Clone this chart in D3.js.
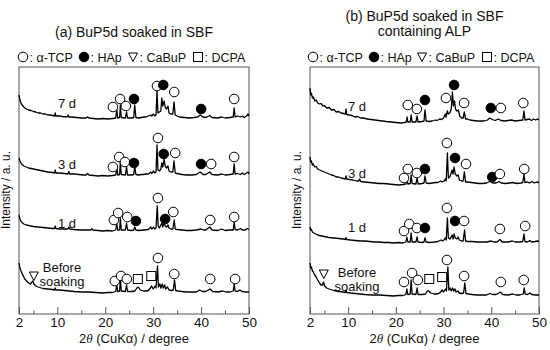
<!DOCTYPE html>
<html><head><meta charset="utf-8">
<script src="https://cdn.jsdelivr.net/npm/d3@7"></script>
<style>
body{margin:0;background:#fff;}
text{font-family:"Liberation Sans",Arial,sans-serif;fill:#111;}
</style></head>
<body><svg id="c" width="550" height="350"></svg>
<script>
// ---------- data ----------
const xTickValues = [2, 10, 20, 30, 40, 50];
const xTickLabels = ["2", "10", "20", "30", "40", "50"];
const xMinorTicks = [5, 15, 25, 35, 45];
const sampleLabels = ["7 d", "3 d", "1 d", "Before soaking"];
const panelTitles = [["(a) BuP5d soaked in SBF"], ["(b) BuP5d soaked in SBF", "containing ALP"]];
const legendTypes = ["o", "f", "t", "s"];
const legendLabels = [": α-TCP", ": HAp", ": CaBuP", ": DCPA"];
const offsetsA = [195, 138, 83, 21];
const offsetsB = [191, 129, 71, 18];

// [2θ, intensity above pattern baseline]
const a7d = [[2,24],[2.2,19],[2.5,15],[2.8,13],[3.2,11],[3.6,10],[4,9],[4.5,8.5],[5,7.5],[5.5,7],[6,6],[6.5,6],[7,5],[7.5,5],[8,4],[8.5,4],[9,3.5],[9.4,3],[9.55,6],[9.7,3],[10.5,3],[11,2.5],[12,2],[12.25,4],[12.4,2],[13,2],[14,1.5],[15,1],[16,1],[16.3,2],[16.6,1],[17.5,0.5],[18.5,0],[19.5,0.5],[20.5,0],[21.5,0.5],[22.2,1],[22.4,10],[22.6,1],[23,1.5],[23.15,14],[23.35,1.5],[24.2,1],[24.45,7],[24.65,1],[25.5,1],[25.95,1.5],[26.15,14],[26.4,1.5],[27,1],[27.5,1.5],[28,2],[28.5,2],[29,3],[29.5,4],[29.7,3],[30.1,5],[30.3,3],[30.6,4],[30.8,28],[31,6],[31.3,7],[31.6,8],[31.8,21],[32,13],[32.3,18],[32.5,12],[32.8,10],[33.1,13],[33.3,6],[33.7,5],[34.1,5],[34.35,17],[34.6,4],[35,3],[35.5,2],[36.5,1.5],[37.5,1],[38.5,1.5],[39.3,2],[39.8,4],[40.4,2],[41,1.5],[41.8,3.5],[42.3,1.5],[43.5,1],[44.3,2],[45,1],[46,1.5],[46.7,2],[46.9,11],[47.1,2],[47.6,3],[48.2,2],[48.6,3],[49,1.5],[49.5,3],[49.8,5],[50,3]];
const a3d = [[2,18],[2.2,15],[2.5,12],[3,10],[3.5,9],[4,8],[5,7],[6,6],[7,5],[8,4],[9,3.5],[9.4,3],[9.55,6],[9.7,3],[10.5,3],[11.5,2.5],[12.2,2],[12.4,4.5],[12.6,2],[13.5,2],[14.5,1.5],[15.5,1],[16,1],[16.3,2.5],[16.6,1],[17.5,0.5],[18.5,0],[19.5,0.5],[20.5,0],[21.5,0.5],[22.2,1],[22.4,10],[22.6,1],[23,1.5],[23.15,14],[23.35,1.5],[24.2,1],[24.45,9],[24.65,1],[25.5,1],[25.95,1.5],[26.15,10],[26.4,1.5],[27,1],[27.5,1.5],[28,1.5],[28.5,2],[29,2],[29.5,4],[29.7,2.5],[30.1,5],[30.3,3],[30.6,4],[30.8,31],[31,6],[31.3,5],[31.6,7],[31.8,13],[32,9],[32.3,17],[32.5,10],[32.8,8],[33.1,10],[33.3,5],[33.7,4],[34.1,4],[34.35,15],[34.6,3],[35,2.5],[36,1.5],[37,1],[38,1],[39,1.5],[39.8,4],[40.4,1.5],[41,1.5],[41.8,4],[42.3,1.5],[43.5,1],[44.3,2],[45,1],[46,1.5],[46.7,2],[46.9,12],[47.1,2],[47.6,2.5],[48.2,1.5],[48.6,3],[49,1.5],[49.5,3],[49.8,4],[50,2]];
const a1d = [[2,16],[2.2,12],[2.5,9],[3,7],[3.5,6],[4,5.5],[5,4.5],[6,4],[7,3.5],[8,3],[9,2.5],[9.4,2.5],[9.55,5],[9.7,2.5],[10.5,2],[11.5,2],[12.2,2],[12.4,4],[12.6,2],[13.5,1.5],[15,1],[16.5,1],[17,1],[17.2,2.5],[17.4,1],[18.5,0.5],[19.5,0],[20.5,0.5],[21.5,0],[22.2,1],[22.4,8],[22.6,1],[23,1],[23.15,13],[23.35,1],[24.2,1],[24.45,8],[24.65,1],[25.5,0.5],[25.95,1],[26.15,4],[26.4,1],[27,0.5],[28,1],[29,1.5],[29.5,4],[29.7,2],[30.1,4],[30.3,2],[30.6,3],[30.85,25],[31.05,5],[31.3,3],[31.6,6],[31.8,8],[32,4],[32.3,9],[32.5,5],[32.8,4],[33.1,6],[33.3,3],[33.7,2],[34.1,2],[34.4,11],[34.6,2],[35,1.5],[36,1],[37,0.5],[38,0.5],[39,1],[40,2],[40.5,1],[41,1],[41.8,4],[42.3,1],[43.5,0.5],[44.3,2],[45,0.5],[46,1],[46.7,1],[46.9,9],[47.1,1.5],[47.6,1],[48.2,2.5],[48.6,1],[49.2,1],[49.6,2.5],[50,1.5]];
const a0d = [[2,30],[2.2,25],[2.5,21],[2.8,18],[3.2,14],[3.6,12],[4,10],[4.4,9],[4.7,11],[4.9,12],[5.1,9],[5.5,7],[6,6],[7,4.5],[8,4],[9,3.5],[9.4,3],[9.55,5],[9.7,3],[10.5,3],[11.5,2.5],[12.5,2],[13.5,1.5],[15,1],[16.5,1],[18,0.5],[19.5,0],[20.5,0.5],[21.5,0.5],[22.2,1.5],[22.4,9],[22.6,1.5],[23,2],[23.15,15],[23.35,2],[24.2,1.5],[24.45,8],[24.65,1.5],[25.5,1.5],[26.2,2],[26.6,5],[26.9,6],[27.3,3],[28,2],[28.5,2],[29,2.5],[29.4,5],[29.7,7],[30,4],[30.4,7],[30.6,5],[30.9,27],[31.1,6],[31.4,9],[31.6,5],[31.9,9],[32.1,5],[32.4,8],[32.6,4],[33,6],[33.3,3],[33.8,2.5],[34.2,3],[34.45,13],[34.7,2.5],[35.2,2],[36,1.5],[37,1],[38,1],[39,1],[39.7,3],[40.3,1.5],[41,1.5],[41.9,4],[42.4,1.5],[43.5,1],[44.5,2],[45.2,1],[46,1],[46.7,2],[46.9,9],[47.1,2],[47.6,1.5],[48.1,3],[48.5,1.5],[49.3,1],[50,1]];
const b7d = [[2,35],[2.15,28],[2.3,30],[2.5,25],[2.7,26],[3,22],[3.3,23],[3.6,20],[4,19],[4.3,19.5],[4.7,17],[5,17.5],[5.5,15],[6,15.5],[6.5,13],[7,13.5],[7.5,11],[8,11.5],[8.5,10],[9,9.5],[9.4,9],[9.55,14],[9.7,8.5],[10.2,8],[10.8,7.5],[11.4,6],[12,6.5],[12.6,5],[13.2,5],[14,4],[14.8,3.5],[15.6,3],[16.4,2.5],[17.2,2],[18,1.5],[19,1],[20,0.5],[21,0],[21.8,0.5],[22.2,1],[22.35,6],[22.5,1],[23,1],[23.2,8],[23.4,1],[24.2,1],[24.45,7],[24.65,1],[25.5,1.5],[25.9,2],[26.1,13],[26.35,2],[27,1.5],[27.6,2],[28.3,3],[28.6,2.5],[29.2,4],[29.6,3.5],[30,5],[30.35,9],[30.5,6],[30.8,12],[31,9],[31.3,10],[31.6,14],[31.85,31],[32.05,17],[32.3,22],[32.5,14],[32.8,12],[33.1,13],[33.4,7],[33.8,5],[34.1,5],[34.35,11],[34.6,4],[35,4],[35.5,3],[36.2,2.5],[37,2],[37.8,2],[38.5,2],[39.2,3],[39.7,5],[40.2,3.5],[40.8,2.5],[41.5,4],[42,2.5],[42.8,2],[43.5,2.5],[44.2,3],[45,2],[45.8,2.5],[46.6,3],[46.85,12],[47.05,3],[47.5,3.5],[48,4],[48.4,2.5],[48.9,4],[49.3,3],[49.7,4],[50,3]];
const b3d = [[2,28],[2.15,23],[2.3,24],[2.5,20],[2.7,21],[3,18],[3.3,18.5],[3.6,16],[4,15],[4.5,14],[5,13],[5.5,12],[6,11],[6.5,10],[7,9.5],[7.5,8],[8,8],[8.5,7],[9,6.5],[9.4,6],[9.55,9],[9.7,6],[10.3,5.5],[11,5],[11.7,4],[12.2,4],[12.4,6],[12.6,3.5],[13.5,3],[14.5,2.5],[15.5,2],[16.5,1.5],[17.5,1.5],[18.5,1],[19.5,0.5],[20.5,0],[21.5,0.5],[22.1,1],[22.3,8],[22.5,1],[23,1.5],[23.2,10],[23.4,1.5],[24.2,1],[24.45,7],[24.65,1],[25.5,1.5],[25.9,2],[26.1,9],[26.35,2],[27,1.5],[27.6,2],[28.3,2.5],[28.8,2.5],[29.4,4],[29.7,3],[30.1,4],[30.35,6],[30.55,4],[30.8,32],[31,7],[31.3,8],[31.6,12],[31.8,15],[32,11],[32.2,18],[32.45,11],[32.8,9],[33.05,10],[33.3,5],[33.8,4],[34.1,4],[34.35,13],[34.6,3],[35,3],[35.8,2.5],[36.6,2],[37.4,1.5],[38.2,1.5],[39,2],[39.7,3.5],[40.3,2],[41,2],[41.6,3.5],[42.1,2],[43,1.5],[43.8,2],[44.5,2.5],[45.3,1.5],[46.2,2],[46.6,2.5],[46.85,11],[47.05,2.5],[47.6,3],[48,2],[48.5,3.5],[49,2],[49.5,3],[50,2.5]];
const b1d = [[2,16],[2.15,13],[2.3,13.5],[2.5,11],[2.8,10],[3.2,9],[3.6,8],[4,7.5],[4.5,7],[5,6.5],[5.5,6],[6,5.5],[7,5],[8,4.5],[9,4],[9.4,3.5],[9.55,5.5],[9.7,3.5],[10.5,3],[11.5,2.5],[12.5,2],[13.5,2],[14.5,1.5],[15.5,1],[16.5,1],[17.5,0.5],[18.5,0.5],[19.5,0],[20.5,0.5],[21.5,0],[22.1,1],[22.3,6],[22.5,1],[23,1],[23.2,10],[23.4,1],[24.2,1],[24.45,6],[24.65,1],[25.5,0.5],[25.9,1],[26.1,5],[26.35,1],[27,0.5],[28,1],[28.8,1.5],[29.5,3],[29.75,2],[30.1,3],[30.35,5],[30.55,3],[30.8,25],[31,5],[31.3,4],[31.6,6],[31.8,8],[32,4],[32.2,9],[32.45,5],[32.8,4],[33.05,6],[33.3,3],[33.8,2],[34.1,2],[34.4,13],[34.6,2],[35,1.5],[36,1.5],[37,1],[38,1],[39,1],[40,2],[40.5,1],[41.2,1],[41.8,3.5],[42.3,1],[43.5,1],[44.4,2],[45,1],[46,1],[46.6,1.5],[46.85,9],[47.05,1.5],[47.6,1],[48.1,2.5],[48.5,1],[49.2,1.5],[49.6,2],[50,1.5]];
const b0d = [[2,33],[2.15,28],[2.3,29],[2.5,25],[2.7,24],[3,21],[3.3,19],[3.6,16],[4,13],[4.3,11],[4.6,11],[4.85,14],[5.05,10],[5.5,8],[6,7],[7,5.5],[8,4.5],[9,4],[9.4,3.5],[9.55,6],[9.7,3.5],[10.5,3],[11.5,2.5],[12.5,2],[13.5,1.5],[15,1],[16.5,1],[18,0.5],[19.5,0],[20.5,0.5],[21.5,0.5],[22.1,1.5],[22.3,7],[22.5,1.5],[23,2],[23.2,16],[23.4,2],[24.2,1.5],[24.45,8],[24.65,1.5],[25.5,1.5],[26.2,2],[26.6,5],[26.9,5],[27.3,3],[28,2],[28.5,2],[29,2.5],[29.4,4],[29.7,6],[30,4],[30.4,7],[30.6,5],[30.9,29],[31.1,6],[31.4,8],[31.6,5],[31.9,8],[32.1,5],[32.4,7],[32.6,4],[33,5],[33.3,3],[33.8,2.5],[34.2,3],[34.45,13],[34.7,2.5],[35.2,2],[36,1.5],[37,1],[38,1],[39,1],[39.7,2.5],[40.3,1.5],[41,1.5],[41.9,4],[42.4,1.5],[43.5,1],[44.5,2],[45.2,1],[46,1],[46.7,2],[46.9,8],[47.1,2],[47.6,1.5],[48.1,3],[48.5,1.5],[49.3,1],[50,1]];

// phase markers: [2θ, height above pattern baseline, type]  o=α-TCP f=HAp t=CaBuP s=DCPA
const mA7d = [[21.6,12,"o"],[23.1,20,"o"],[24.3,13,"o"],[26.0,20,"f"],[30.8,33,"o"],[32.1,34,"f"],[34.4,27,"o"],[40.0,10,"f"],[46.9,20,"o"]];
const mA3d = [[21.6,9,"o"],[22.9,19,"o"],[24.1,14,"o"],[26.0,13,"f"],[31.0,38,"o"],[32.2,22,"f"],[34.6,23,"o"],[40.0,12,"f"],[42.1,12,"o"],[46.9,19,"o"]];
const mA1d = [[21.8,11,"o"],[22.7,18,"o"],[24.6,14,"o"],[26.4,10,"f"],[31.0,33,"o"],[32.5,12,"f"],[34.2,19,"o"],[41.9,11,"o"],[46.9,14,"o"]];
const mA0d = [[5.1,17,"t"],[22.0,12,"o"],[23.3,17,"o"],[24.5,14,"o"],[26.8,14,"s"],[29.6,17,"s"],[31.0,35,"o"],[34.4,19,"o"],[41.9,14,"o"],[47.1,14,"o"]];
const mB7d = [[22.5,18,"o"],[24.4,14,"o"],[26.1,23,"f"],[30.5,25,"o"],[32.2,38,"f"],[34.3,20,"o"],[39.9,15,"f"],[42.0,15,"o"],[46.7,20,"o"]];
const mB3d = [[21.7,7,"o"],[22.5,16,"o"],[24.4,12,"o"],[26.1,16,"f"],[30.7,42,"o"],[32.4,27,"f"],[34.7,21,"o"],[40.2,8,"f"],[41.8,11,"o"],[46.9,16,"o"]];
const mB1d = [[21.7,12,"o"],[22.8,19,"o"],[24.4,15,"o"],[26.1,15,"f"],[30.7,35,"o"],[32.4,22,"f"],[34.3,22,"o"],[41.8,14,"o"],[47.1,17,"o"]];
const mB0d = [[4.9,22,"t"],[21.7,14,"o"],[23.4,23,"o"],[24.6,16,"o"],[27.0,17,"s"],[29.7,19,"s"],[30.7,36,"o"],[34.3,20,"o"],[42.0,14,"o"],[46.8,16,"o"]];

// ---------- drawing ----------
const svg = d3.select("#c");
const plotTop = 67, plotBottom = 314;
const y = d3.scaleLinear().domain([0, 247]).range([plotBottom, plotTop]);

const panels = [
  {left: 19, right: 249, titles: panelTitles[0], titleY: [37], legendY: 57,
   legendX: [23, 84, 133, 198], patterns: [a7d, a3d, a1d, a0d], markers: [mA7d, mA3d, mA1d, mA0d],
   offsets: offsetsA, labelX: 67, beforeX: 62, labelY: [108, 169, 228, [272, 286]], yLabelX: 10},
  {left: 310, right: 539, titles: panelTitles[1], titleY: [21, 36], legendY: 57,
   legendX: [313, 374, 422, 487], patterns: [b7d, b3d, b1d, b0d], markers: [mB7d, mB3d, mB1d, mB0d],
   offsets: offsetsB, labelX: 357, beforeX: 357, labelY: [111, 178, 232, [277, 291]], yLabelX: 301}
];

function drawSymbol(g, type, cx, cy) {
  if (type === "o" || type === "f") {
    g.append("circle").attr("cx", cx).attr("cy", cy).attr("r", 4.8)
      .attr("fill", type === "f" ? "#000" : "#fff").attr("stroke", "#000").attr("stroke-width", 1);
  } else if (type === "t") {
    g.append("path").attr("d", `M${cx-4.5},${cy-4}L${cx+4.5},${cy-4}L${cx},${cy+4.5}Z`)
      .attr("fill", "#fff").attr("stroke", "#000").attr("stroke-width", 1);
  } else {
    g.append("rect").attr("x", cx-4.5).attr("y", cy-4.5).attr("width", 9).attr("height", 9)
      .attr("fill", "#fff").attr("stroke", "#000").attr("stroke-width", 1);
  }
}

panels.forEach(p => {
  const g = svg.append("g");
  const x = d3.scaleLinear().domain([2, 50]).range([p.left, p.right]);
  const cx = (p.left + p.right) / 2;

  p.titles.forEach((t, i) => {
    g.append("text").attr("x", cx).attr("y", p.titleY[i]).attr("text-anchor", "middle")
      .style("font-size", "14px").text(t);
  });

  legendTypes.forEach((t, i) => {
    drawSymbol(g, t, p.legendX[i], p.legendY);
    g.append("text").attr("x", p.legendX[i] + 6.5).attr("y", p.legendY + 4.5)
      .style("font-size", "12.5px").text(legendLabels[i]);
  });

  g.append("rect").attr("x", p.left).attr("y", plotTop).attr("width", p.right - p.left)
    .attr("height", plotBottom - plotTop).attr("fill", "none").attr("stroke", "#555").attr("stroke-width", 1);

  const ax = g.append("g").attr("transform", `translate(0,${plotBottom})`)
    .call(d3.axisBottom(x).tickValues(xTickValues).tickFormat((d, i) => xTickLabels[i])
      .tickSizeInner(-7).tickSizeOuter(0).tickPadding(3));
  ax.select(".domain").remove();
  ax.selectAll("line").attr("stroke", "#555");
  ax.selectAll("text").style("font-size", "13.5px").attr("fill", "#111")
    .style("font-family", "'Liberation Sans',Arial,sans-serif");
  const axm = g.append("g").attr("transform", `translate(0,${plotBottom})`)
    .call(d3.axisBottom(x).tickValues(xMinorTicks).tickFormat("").tickSizeInner(-3.5).tickSizeOuter(0));
  axm.select(".domain").remove();
  axm.selectAll("line").attr("stroke", "#555");

  const xt = g.append("text").attr("x", cx).attr("y", 343).attr("text-anchor", "middle").style("font-size", "13px");
  xt.append("tspan").text("2");
  xt.append("tspan").style("font-style", "italic").style("font-family", "'Liberation Serif','Times New Roman',serif").text("θ");
  xt.append("tspan").text(" (CuKα) / degree");

  g.append("text").attr("transform", `translate(${p.yLabelX},190) rotate(-90)`)
    .attr("text-anchor", "middle").style("font-size", "12px").text("Intensity / a. u.");

  const line = d3.line().x(d => x(d[0]));
  p.patterns.forEach((pat, i) => {
    const off = p.offsets[i];
    g.append("path").datum(pat)
      .attr("d", line.y(d => y(off + d[1])))
      .attr("fill", "none").attr("stroke", "#000").attr("stroke-width", 1.3).attr("stroke-linejoin", "round");
    p.markers[i].forEach(m => drawSymbol(g, m[2], x(m[0]), y(off + m[1])));
    const ly = p.labelY[i];
    if (Array.isArray(ly)) {
      const parts = sampleLabels[i].split(" ");
      parts.forEach((s, k) => g.append("text").attr("x", p.beforeX).attr("y", ly[k])
        .attr("text-anchor", "middle").style("font-size", "13px").text(s));
    } else {
      g.append("text").attr("x", p.labelX).attr("y", ly).attr("text-anchor", "middle")
        .style("font-size", "13px").text(sampleLabels[i]);
    }
  });
});
</script></body></html>
